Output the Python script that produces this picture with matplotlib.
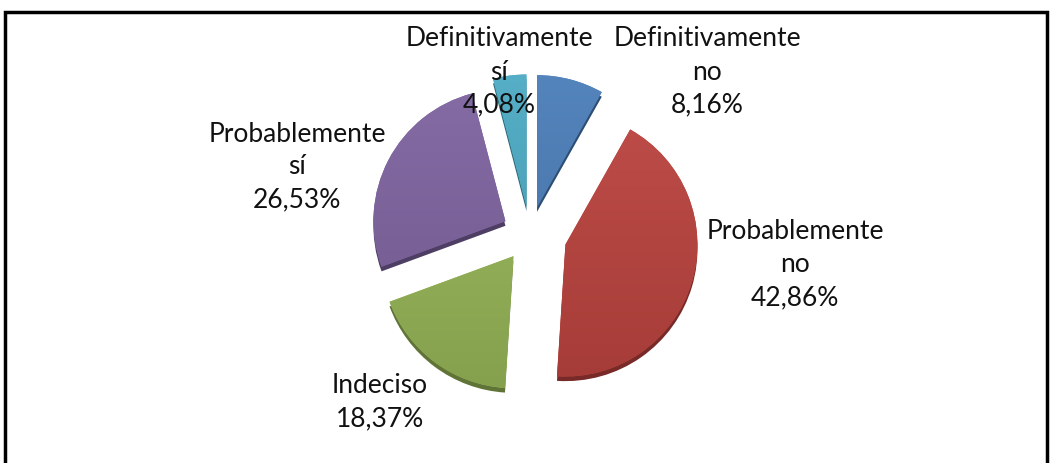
import numpy as np
import matplotlib
matplotlib.use("Agg")
import matplotlib.pyplot as plt
from matplotlib.colors import to_rgb
from matplotlib.patches import Rectangle

plt.rcParams['font.family'] = ['Lato', 'DejaVu Sans']

# data (clockwise from the top)
categories = ["Definitivamente\nno", "Probablemente\nno", "Indeciso",
              "Probablemente\nsí", "Definitivamente\nsí"]
percentages = [8.16, 42.86, 18.37, 26.53, 4.08]
colors = ["#4a7ebb", "#c0443f", "#9bbb59", "#8064a2", "#4bacc6"]
explode = [0.21, 0.28, 0.21, 0.21, 0.21]

# label centres in pixels (from top-left) of the reference
label_pos = [(707, 72), (795, 265), (380, 402), (297, 167), (499, 72)]

W, H = 1052, 464
R = 132.0          # pie radius in pixels
CX, CY = 530, 235  # pie centre in pixels

fig = plt.figure(figsize=(W / 100, H / 100), dpi=100)
ax = fig.add_axes([0, 0, 1, 1])

def shade(c, f):
    r, g, b = to_rgb(c)
    return (r * f, g * f, b * f)

# darker copy below gives the 3D thickness
rim, _ = ax.pie(percentages, explode=explode, startangle=90, counterclock=False,
                colors=[shade(c, 0.62) for c in colors], center=(0, -0.035))
for w in rim:
    w.set_linewidth(0)

wedges, _ = ax.pie(percentages, explode=explode, startangle=90, counterclock=False,
                   colors=colors)
ax.set_aspect('auto')
ax.axis('off')

# soft vertical gradient inside each wedge, a bit lighter at top
grad = np.linspace(0, 1, 256).reshape(-1, 1)
for w, c in zip(wedges, colors):
    w.set_linewidth(0)
    top = np.array(shade(c, 1.0)) * 0.93 + 0.07
    bot = np.array(shade(c, 0.84))
    img = top[None, None, :] * (1 - grad[:, :, None]) + bot[None, None, :] * grad[:, :, None]
    im = ax.imshow(img, extent=(-1.5, 1.5, -1.5, 1.5), origin='upper',
                   aspect='auto', zorder=w.get_zorder() + 0.1, interpolation='bilinear')
    im.set_clip_path(w)
ax.set_xlim(-CX / R, (W - CX) / R)
ax.set_ylim(-(H - CY) / R, CY / R)

for cat, pct, (px, py) in zip(categories, percentages, label_pos):
    txt = cat + "\n" + f"{pct:.2f}%".replace(".", ",")
    fig.text(px / W, 1 - py / H, txt, ha='center', va='center', fontsize=19,
             linespacing=1.4, color='#111111')

# outer frame
fig.patches.append(Rectangle((5 / W, -0.1), (W - 10) / W, 1.1 - 13 / H,
                             transform=fig.transFigure, fill=False,
                             edgecolor='black', linewidth=2.5))

fig.savefig("out.png", dpi=100)
